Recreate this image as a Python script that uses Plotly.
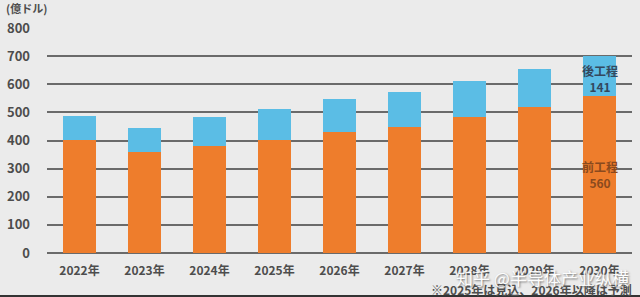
import plotly.graph_objects as go

years = ["2022年", "2023年", "2024年", "2025年", "2026年", "2027年", "2028年", "2029年", "2030年"]
front_end = [401, 360, 380, 401, 432, 448, 483, 520, 560]   # 前工程
back_end = [85, 84, 102, 110, 117, 123, 129, 136, 141]       # 後工程
y_ticks = [0, 100, 200, 300, 400, 500, 600, 700, 800]

FONT = "Noto Sans CJK JP"
BG = "#ebebeb"
ORANGE = "#ee7d2c"
BLUE = "#5bbde5"
TXT = "#4d4d4d"

fig = go.Figure()
fig.add_trace(go.Bar(x=years, y=front_end, marker=dict(color=ORANGE, line=dict(width=0)),
                     name="前工程", hoverinfo="skip"))
fig.add_trace(go.Bar(x=years, y=back_end, marker=dict(color=BLUE, line=dict(width=0)),
                     name="後工程", hoverinfo="skip"))

last = years[-1]
fig.add_annotation(x=last, y=front_end[-1] + back_end[-1], yanchor="top", yshift=-4,
                   text="<b>後工程<br>141</b>", showarrow=False,
                   font=dict(family=FONT, size=12, color="#34495e"), align="center")
fig.add_annotation(x=last, y=front_end[-1] * 0.5, yanchor="middle",
                   text="<b>前工程<br>560</b>", showarrow=False,
                   font=dict(family=FONT, size=12, color="#8a4a1e"), align="center")

fig.add_annotation(xref="paper", yref="paper", x=-0.074, y=1.087, xanchor="left", yanchor="middle",
                   text="<b>(億ドル)</b>", showarrow=False,
                   font=dict(family=FONT, size=11, color=TXT))
fig.add_annotation(xref="paper", yref="paper", x=1.004, y=-0.162, xanchor="right", yanchor="middle",
                   text="<b>※2025年は見込、2026年以降は予測</b>", showarrow=False,
                   font=dict(family=FONT, size=12, color=TXT))
fig.add_annotation(xref="paper", yref="paper", x=0.998, y=-0.11, xanchor="right", yanchor="middle",
                   text="知乎 @半导体产业纵横", showarrow=False, opacity=0.9,
                   font=dict(family="Noto Sans CJK SC", size=17, color="#ffffff",
                             shadow="1px 1px 2px #666666"))

fig.update_layout(
    width=640, height=297,
    margin=dict(l=47, r=8, t=28, b=44),
    paper_bgcolor=BG, plot_bgcolor=BG,
    barmode="stack", bargap=0.49,
    showlegend=False,
    font=dict(family=FONT, color=TXT),
    xaxis=dict(range=[-0.5, 8.5], showgrid=False, showline=False, ticks="", ticklabelstandoff=9,
               tickfont=dict(family=FONT, size=12, color=TXT, weight="bold")),
    yaxis=dict(range=[0, 800], tickvals=y_ticks, ticks="", ticklabelstandoff=16,
               showgrid=True, gridcolor="#6a6a6a", gridwidth=1.6,
               zeroline=True, zerolinecolor="#6a6a6a", zerolinewidth=1.6,
               tickfont=dict(family=FONT, size=13, color=TXT, weight="bold")),
    shapes=[
        dict(type="line", xref="paper", yref="paper", x0=-0.1, x1=1.1, y0=-0.191, y1=-0.191,
             line=dict(color="#333333", width=2)),
    ],
)

fig.write_html("out.html")
